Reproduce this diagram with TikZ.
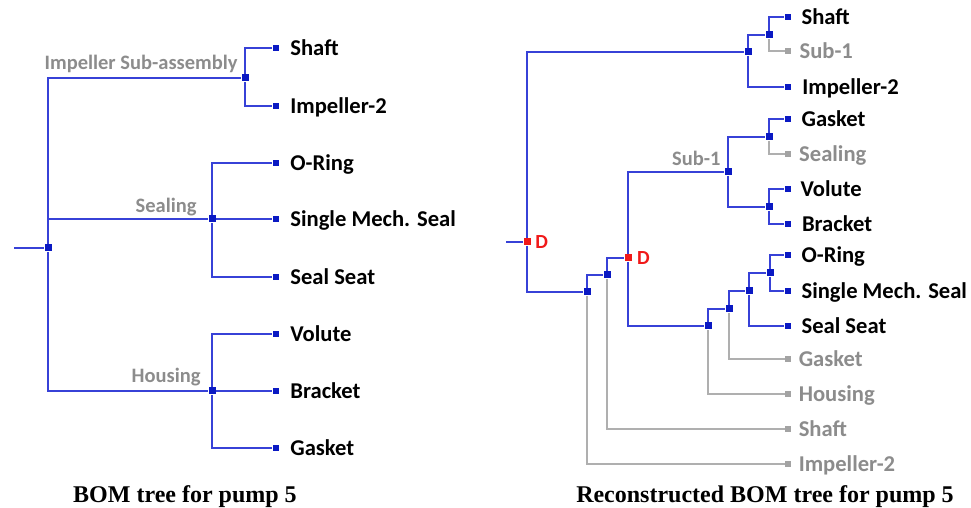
\documentclass[tikz,border=0pt]{standalone}
\usepackage{fontspec}
\setmainfont{Liberation Serif}
\setsansfont{Carlito}
\usetikzlibrary{positioning}
\usepackage{xcolor}

\definecolor{linkblue}{RGB}{55,65,215}
\definecolor{boxblue}{RGB}{10,25,195}
\definecolor{ghostline}{RGB}{175,175,175}
\definecolor{ghosttext}{RGB}{140,140,140}
\definecolor{dred}{RGB}{240,25,25}

\begin{document}
\begin{tikzpicture}[
    x=0.5pt, y=-0.5pt,
    joint/.style = {rectangle, fill=boxblue, inner sep=0pt, minimum size=3.5pt},
    leaf/.style = {rectangle, fill=boxblue, inner sep=0pt, minimum size=3.2pt},
    ghost/.style = {rectangle, fill=ghosttext!80, inner sep=0pt, minimum size=2.8pt},
    dnode/.style = {joint, fill=dred},
    link/.style = {draw=linkblue, line width=0.65pt},
    glink/.style = {draw=ghostline, line width=0.65pt},
    item/.style = {font=\sffamily\bfseries\fontsize{11.3}{13}\selectfont, inner sep=0pt, text height=7.3pt, text depth=0pt},
    gitem/.style = {item, text=ghosttext},
    lbl/.style = {font=\sffamily\bfseries\fontsize{10.25}{12}\selectfont, text=ghosttext, inner sep=0pt, anchor=base east},
    dlbl/.style = {font=\sffamily\bfseries\fontsize{10}{12}\selectfont, text=dred, inner sep=0pt},
    caption/.style = {font=\bfseries\fontsize{12}{14}\selectfont, inner sep=0pt, text height=7.9pt, text depth=0pt}
]
\useasboundingbox (0,0) rectangle (971,508);

% ---- left: BOM tree ----
\coordinate (inL) at (14,248);
\node (rootL) [joint] at (48,248) {};
\node (impL) [joint] at (245,78) {};
\node (sealL) [joint] at (212,219) {};
\node (housL) [joint] at (212,391) {};

\node (shaftL) [leaf] at (276,48) {};
\node (imp2L) [leaf] at (276,106) {};
\node (oringL) [leaf] at (276,163) {};
\node (mechL) [leaf] at (276,219) {};
\node (seatL) [leaf] at (276,277) {};
\node (voluteL) [leaf] at (276,334) {};
\node (bracketL) [leaf] at (276,391) {};
\node (gasketL) [leaf] at (276,448) {};

\node (shaftLt) [item, right=5.2pt of shaftL] {Shaft};
\node (imp2Lt) [item, right=5.2pt of imp2L] {Impeller-2};
\node (oringLt) [item, right=5.2pt of oringL] {O-Ring};
\node (mechLt) [item, right=5.2pt of mechL] {Single Mech. Seal};
\node (seatLt) [item, right=5.2pt of seatL] {Seal Seat};
\node (voluteLt) [item, right=5.2pt of voluteL] {Volute};
\node (bracketLt) [item, right=5.2pt of bracketL] {Bracket};
\node (gasketLt) [item, right=5.2pt of gasketL] {Gasket};

\node (impLab) [lbl] at ([xshift=-3.5pt, yshift=4pt]impL.center) {Impeller Sub-assembly};
\node (sealLab) [lbl] at ([xshift=-7.5pt, yshift=3pt]sealL.center) {Sealing};
\node (housLab) [lbl] at ([xshift=-5.5pt, yshift=4pt]housL.center) {Housing};

\draw [link] (inL) -- (rootL);
\draw [link] (rootL) |- (impL);
\draw [link] (rootL) |- (sealL);
\draw [link] (rootL) |- (housL);
\draw [link] (impL) |- (shaftL);
\draw [link] (impL) |- (imp2L);
\draw [link] (sealL) |- (oringL);
\draw [link] (sealL) -- (mechL);
\draw [link] (sealL) |- (seatL);
\draw [link] (housL) |- (voluteL);
\draw [link] (housL) -- (bracketL);
\draw [link] (housL) |- (gasketL);

\node (capL) [caption] at (185,494.5) {BOM tree for pump 5};

% ---- right: reconstructed tree ----
\coordinate (inR) at (506,242);
\node (rootR) [dnode, label={[dlbl, label distance=2pt]right:D}] at (527,242) {};
\node (topR) [joint] at (748,52) {};
\node (t1R) [joint] at (769,35) {};
\node (b1R) [joint] at (587,292) {};
\node (b2R) [joint] at (607,275) {};
\node (dR) [dnode, label={[dlbl, label distance=2.4pt]right:D}] at (628,258) {};
\node (sub1R) [joint] at (728,172) {};
\node (s1R) [joint] at (769,137) {};
\node (s2R) [joint] at (769,207) {};
\node (c1R) [joint] at (708,326) {};
\node (c2R) [joint] at (729,309) {};
\node (c3R) [joint] at (749,291) {};
\node (c4R) [joint] at (770,273) {};

\node (shaftR) [leaf] at (788,17) {};
\node (sub1gR) [ghost] at (788,51) {};
\node (imp2R) [leaf] at (788,87) {};
\node (gasketR) [leaf] at (788,119) {};
\node (sealgR) [ghost] at (788,154) {};
\node (voluteR) [leaf] at (788,189) {};
\node (bracketR) [leaf] at (788,224) {};
\node (oringR) [leaf] at (788,255) {};
\node (mechR) [leaf] at (788,291) {};
\node (seatR) [leaf] at (788,326) {};
\node (gasketgR) [ghost] at (788,359) {};
\node (housgR) [ghost] at (788,394) {};
\node (shaftgR) [ghost] at (788,429) {};
\node (impgR) [ghost] at (788,464) {};

\node (shaftRt) [item, right=4.8pt of shaftR] {Shaft};
\node (sub1gRt) [gitem, right=4pt of sub1gR] {Sub-1};
\node (imp2Rt) [item, right=5.2pt of imp2R] {Impeller-2};
\node (gasketRt) [item, right=4.8pt of gasketR] {Gasket};
\node (sealgRt) [gitem, right=3.8pt of sealgR] {Sealing};
\node (voluteRt) [item, right=4.3pt of voluteR] {Volute};
\node (bracketRt) [item, right=5pt of bracketR] {Bracket};
\node (oringRt) [item, right=4.8pt of oringR] {O-Ring};
\node (mechRt) [item, right=4.8pt of mechR] {Single Mech. Seal};
\node (seatRt) [item, right=4.8pt of seatR] {Seal Seat};
\node (gasketgRt) [gitem, right=3.6pt of gasketgR] {Gasket};
\node (housgRt) [gitem, right=3.6pt of housgR] {Housing};
\node (shaftgRt) [gitem, right=3.6pt of shaftgR] {Shaft};
\node (impgRt) [gitem, right=3.6pt of impgR] {Impeller-2};

\node (sub1Lab) [lbl] at ([xshift=-3.5pt, yshift=3pt]sub1R.center) {Sub-1};

\draw [link] (inR) -- (rootR);
\draw [link] (rootR) |- (topR);
\draw [link] (topR) |- (t1R);
\draw [link] (topR) |- (imp2R);
\draw [link] (t1R) |- (shaftR);
\draw [glink] (t1R) |- (sub1gR);

\draw [link] (rootR) |- (b1R);
\draw [link] (b1R) |- (b2R);
\draw [glink] (b1R) |- (impgR);
\draw [link] (b2R) |- (dR);
\draw [glink] (b2R) |- (shaftgR);

\draw [link] (dR) |- (sub1R);
\draw [link] (sub1R) |- (s1R);
\draw [link] (sub1R) |- (s2R);
\draw [link] (s1R) |- (gasketR);
\draw [glink] (s1R) |- (sealgR);
\draw [link] (s2R) |- (voluteR);
\draw [link] (s2R) |- (bracketR);

\draw [link] (dR) |- (c1R);
\draw [link] (c1R) |- (c2R);
\draw [glink] (c1R) |- (housgR);
\draw [link] (c2R) |- (c3R);
\draw [glink] (c2R) |- (gasketgR);
\draw [link] (c3R) |- (c4R);
\draw [link] (c3R) |- (seatR);
\draw [link] (c4R) |- (oringR);
\draw [link] (c4R) |- (mechR);

\node (capR) [caption] at (765,494.5) {Reconstructed BOM tree for pump 5};

\end{tikzpicture}
\end{document}
